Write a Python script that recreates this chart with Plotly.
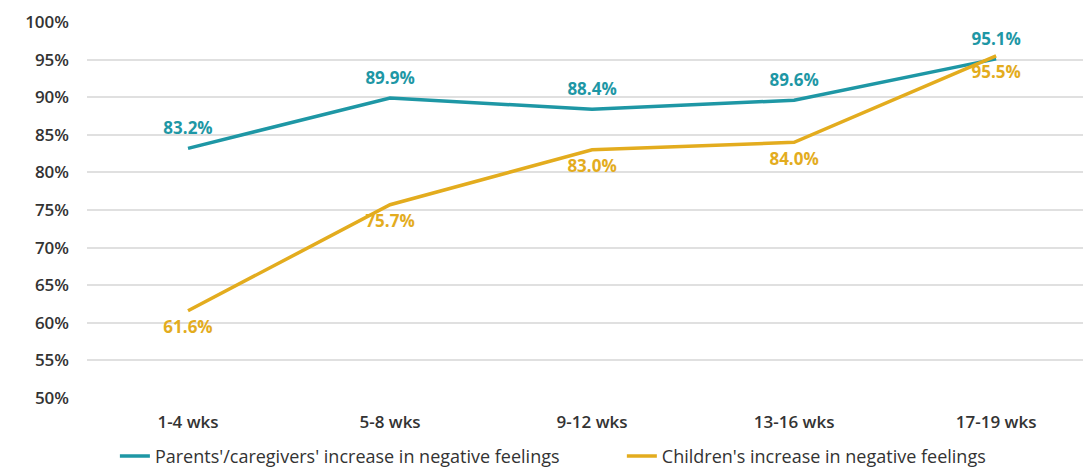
import plotly.graph_objects as go

categories = ["1-4 wks", "5-8 wks", "9-12 wks", "13-16 wks", "17-19 wks"]
parents = [83.2, 89.9, 88.4, 89.6, 95.1]
children = [61.6, 75.7, 83.0, 84.0, 95.5]
series_names = ["Parents'/caregivers' increase in negative feelings",
                "Children's increase in negative feelings"]
y_ticks = [50, 55, 60, 65, 70, 75, 80, 85, 90, 95, 100]

TEAL = "#1E97A5"
GOLD = "#E3AC1E"
FONT = "Open Sans"
DARK = "#333333"

fig = go.Figure()
fig.add_trace(go.Scatter(
    x=categories, y=parents, name=series_names[0],
    mode="lines+markers+text",
    line=dict(color=TEAL, width=3.5),
    marker=dict(size=14, color="rgba(0,0,0,0)"),
    text=[f"{v:.1f}%" for v in parents],
    textposition="top center",
    textfont=dict(color=TEAL, size=17, family=FONT, weight="bold"),
    legend="legend",
))
fig.add_trace(go.Scatter(
    x=categories, y=children, name=series_names[1],
    mode="lines+markers+text",
    line=dict(color=GOLD, width=3.5),
    marker=dict(size=14, color="rgba(0,0,0,0)"),
    text=[f"{v:.1f}%" for v in children],
    textposition="bottom center",
    textfont=dict(color=GOLD, size=17, family=FONT, weight="bold"),
    legend="legend2",
))

leg_common = dict(orientation="h", xanchor="left", yanchor="middle", y=-0.155,
                  font=dict(size=18, color=DARK, family=FONT),
                  bgcolor="rgba(0,0,0,0)", itemwidth=30)

fig.update_layout(
    width=1083, height=469,
    margin=dict(l=87, r=0, t=22, b=71, autoexpand=False),
    paper_bgcolor="white", plot_bgcolor="white",
    font=dict(family=FONT, size=15, color=DARK),
    showlegend=True,
    legend=dict(x=0.028, **leg_common),
    legend2=dict(x=0.537, **leg_common),
    xaxis=dict(range=[-0.5, 4.43], showgrid=False, showline=False, zeroline=False,
               ticks="", ticklabelstandoff=12,
               tickfont=dict(size=17, color=DARK, family=FONT, weight=600)),
    yaxis=dict(range=[50, 100], tickvals=y_ticks, ticktext=[f"{t}%" for t in y_ticks],
               showgrid=True, gridcolor="#E0E0E0", gridwidth=1.5,
               zeroline=False, showline=False, ticks="", ticklabelstandoff=17,
               tickfont=dict(size=17, color=DARK, family=FONT, weight=600)),
)

fig.write_html("out.html")
